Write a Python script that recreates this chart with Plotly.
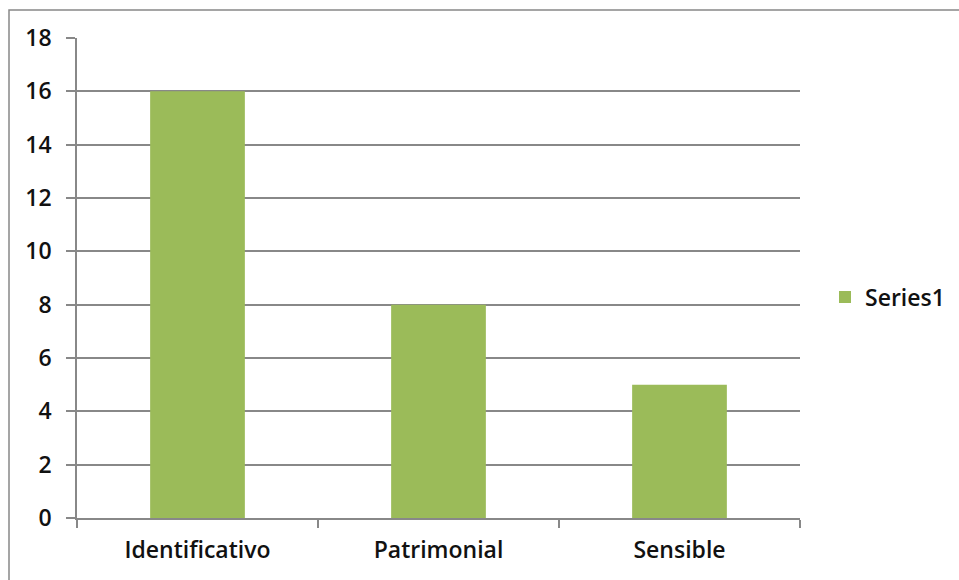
import plotly.graph_objects as go

categories = ["Identificativo", "Patrimonial", "Sensible"]
values = [16, 8, 5]
series_name = "Series1"
y_ticks = [0, 2, 4, 6, 8, 10, 12, 14, 16, 18]

L, R, T, B = 77, 159, 38, 62
W, H = 959, 580
pw, ph = W - L - R, H - T - B
FONT = "Open Sans"
fnt = dict(family=FONT, size=23, color="#111", weight=600)

fig = go.Figure()
fig.add_trace(go.Bar(x=categories, y=values, name=series_name,
                     marker=dict(color="#9BBB59", line=dict(width=0))))

fig.update_layout(
    width=W, height=H,
    margin=dict(l=L, r=R, t=T, b=B, pad=0, autoexpand=False),
    paper_bgcolor="white", plot_bgcolor="white",
    bargap=0.607,
    showlegend=True,
    legend=dict(x=(825 - L) / pw, y=(H - B - 297) / ph, xanchor="left", yanchor="middle",
                font=fnt, itemwidth=30, bgcolor="rgba(0,0,0,0)"),
    font=fnt,
)
fig.update_xaxes(
    type="category", tickson="boundaries", ticks="outside", ticklen=8,
    tickcolor="#888", tickwidth=1.5, showline=True, linecolor="#888", linewidth=1.5,
    showgrid=False, ticklabelstandoff=11, automargin=False,
    tickfont=fnt,
)
fig.update_yaxes(
    range=[0, 18], tickvals=y_ticks, ticks="outside", ticklen=9,
    tickcolor="#888", tickwidth=1.5, showline=True, linecolor="#888", linewidth=1.5,
    showgrid=True, gridcolor="#888", gridwidth=1.5, zeroline=False,
    ticklabelstandoff=10, automargin=False,
    tickfont=fnt,
)
# outer chart border
fig.add_shape(type="rect", xref="paper", yref="paper",
              x0=(9 - L) / pw, x1=(W + 20 - L) / pw,
              y0=(H - B - (H + 20)) / ph, y1=(H - B - 10) / ph,
              line=dict(color="#888", width=1.5), fillcolor="rgba(0,0,0,0)", layer="below")

fig.write_html("out.html")
